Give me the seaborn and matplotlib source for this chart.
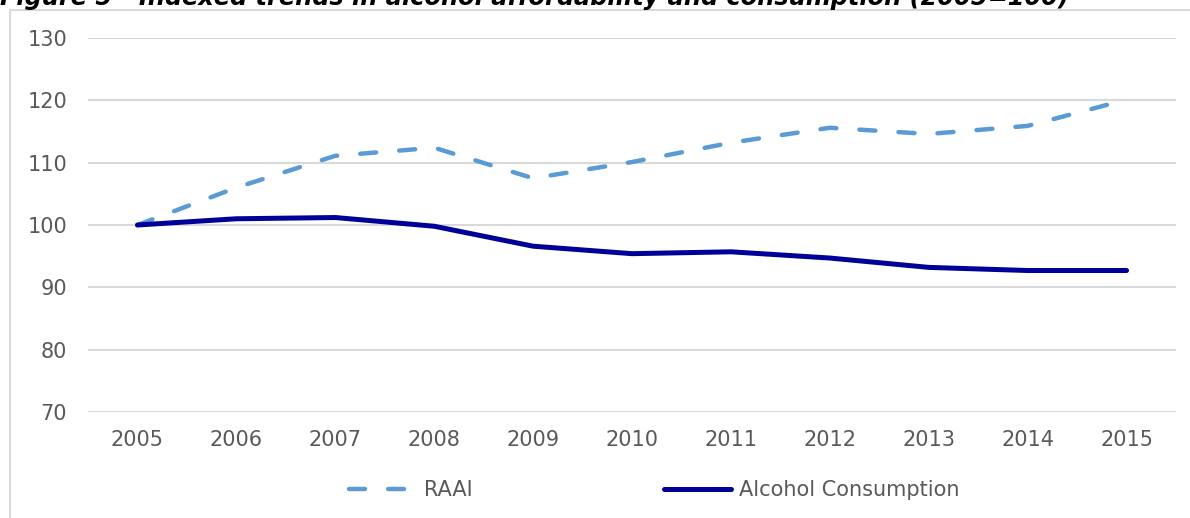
import matplotlib
matplotlib.use('Agg')
import matplotlib.pyplot as plt
import seaborn as sns
import pandas as pd
from matplotlib.patches import Rectangle

# values (index, 2005 = 100)
years = [2005, 2006, 2007, 2008, 2009, 2010, 2011, 2012, 2013, 2014, 2015]
raai = [100, 106.0, 111.1, 112.4, 107.5, 110.1, 113.2, 115.6, 114.6, 115.9, 120.1]
consumption = [100, 101.0, 101.2, 99.8, 96.6, 95.4, 95.7, 94.7, 93.2, 92.7, 92.7]
y_ticks = [70, 80, 90, 100, 110, 120, 130]

df = pd.DataFrame({'Year': years, 'RAAI': raai, 'Alcohol Consumption': consumption})

sns.set_style('white')
plt.rcParams['font.family'] = ['DejaVu Sans']

fig = plt.figure(figsize=(11.9, 5.18), dpi=100)
ax = fig.add_axes([88 / 1190, 1 - 412 / 518, (1176 - 88) / 1190, (412 - 38) / 518])

# outer chart border (only top and left edges are visible in the crop)
fig.patches.append(Rectangle((10 / 1190, -0.1), 1.2, 1 - 10 / 518 + 0.1,
                             transform=fig.transFigure, fill=False,
                             edgecolor='#D9D9D9', linewidth=1.5, zorder=0))

sns.lineplot(data=df, x='Year', y='RAAI', ax=ax, color='#5B9BD5', linewidth=3.2,
             linestyle=(0, (3.6, 5.2)), dash_capstyle='round', label='RAAI')
sns.lineplot(data=df, x='Year', y='Alcohol Consumption', ax=ax, color='#000099',
             linewidth=3.6, solid_capstyle='round', label='Alcohol Consumption')

ax.set_xlim(2004.5, 2015.5)
ax.set_ylim(70, 130)
ax.set_xticks(years)
ax.set_yticks(y_ticks)
ax.set_xlabel('')
ax.set_ylabel('')
ax.grid(axis='y', color='#D9D9D9', linewidth=1.5)
ax.set_axisbelow(True)
for s in ax.spines.values():
    s.set_visible(False)
ax.tick_params(axis='both', length=0, labelsize=15, labelcolor='#595959')
ax.tick_params(axis='y', pad=15)
ax.tick_params(axis='x', pad=13)

ax.get_legend().remove()
handles, labels = ax.get_legend_handles_labels()
fig.legend(handles, labels, loc='center', bbox_to_anchor=(0.55, 1 - 490 / 518),
           ncol=2, frameon=False, fontsize=15, labelcolor='#595959',
           handlelength=3.2, handletextpad=0.4, columnspacing=9.2)

# the title sits half outside the top edge, as in the reference
fig.text(0.0, 1 - 5 / 518, 'Figure 5 - Indexed trends in alcohol affordability and consumption (2005=100)',
         fontsize=17.3, fontweight='bold', fontstyle='italic', ha='left', va='baseline',
         color='black')

fig.savefig('out.png', dpi=100)
